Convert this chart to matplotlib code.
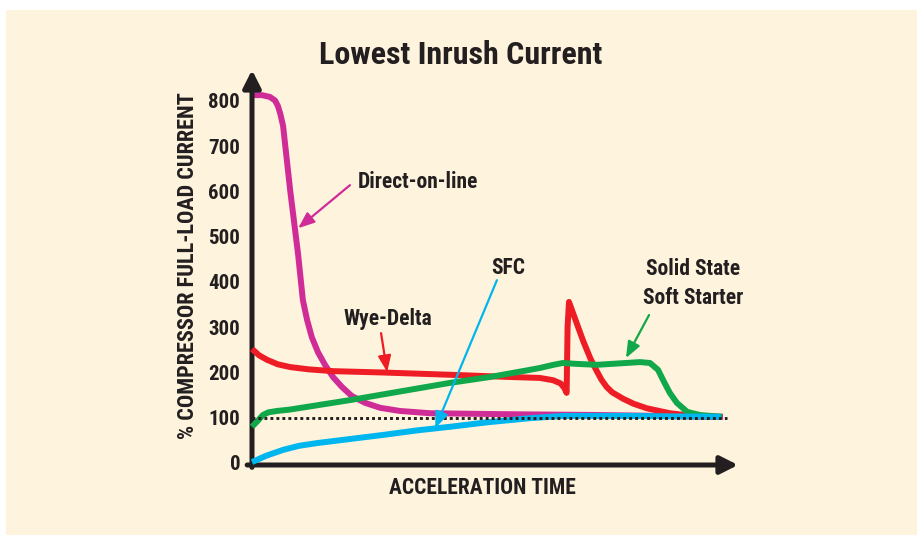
import os
import matplotlib
matplotlib.use("Agg")
import matplotlib.pyplot as plt
import matplotlib.font_manager as fm
from matplotlib.patches import Rectangle

# ---------------- data (x: % of acceleration time, y: % full-load current) ----
dol_x = [0.0, 2.1, 3.8, 4.9, 5.5, 6.0, 6.6, 8.1, 9.8, 10.8, 11.7, 12.7, 14.0,
         15.5, 17.2, 19.1, 21.2, 24.0, 27.2, 31.4, 37.8, 52.7, 73.9, 100.0]
dol_y = [813, 813, 809, 801, 789, 772, 745, 603, 460, 360, 316, 278, 245,
         217, 190, 168, 148, 133, 122, 115, 110, 108, 106, 102]

wye_x = [0.0, 1.5, 3.2, 5.5, 8.1, 12.0, 17.2, 27.8, 42.0, 55.0, 61.1, 63.9,
         65.5, 66.3, 66.8, 67.0, 67.3, 68.2, 70.3, 71.8, 73.2, 74.2, 75.3,
         76.5, 78.8, 81.0, 83.8, 88.7, 94.4, 99.8]
wye_y = [252, 238, 228, 218, 212, 207, 203, 200, 195, 190, 188, 183,
         176, 166, 155, 300, 356, 330, 270, 232, 203, 184, 168,
         156, 142, 131, 121, 110, 103, 102]

sss_x = [0.0, 1.2, 2.3, 3.5, 5.3, 8.0, 20.8, 42.0, 50.5, 58.0, 61.1, 64.0,
         66.0, 69.0, 73.2, 82.4, 84.5, 86.2, 87.3, 88.7, 90.2, 92.4, 95.1,
         99.8]
sss_y = [80, 93, 106, 112, 115, 118, 139, 177, 190, 204, 210, 217,
         221, 219, 217, 223, 221, 206, 183, 155, 133, 113, 106, 102]

sfc_x = [0.0, 3.0, 6.6, 10.0, 13.8, 20.0, 27.8, 35.0, 42.0, 50.0, 59.0,
         66.0, 80.0, 99.5]
sfc_y = [2, 16, 29, 38, 44, 52, 62, 72, 80, 90, 99, 104, 104, 102]

ref_level = 100
y_ticks = [0, 100, 200, 300, 400, 500, 600, 700, 800]

title = "Lowest Inrush Current"
ylabel = "% COMPRESSOR FULL-LOAD CURRENT"
xlabel = "ACCELERATION TIME"

C_DOL = "#D02C98"
C_WYE = "#EE1C25"
C_SSS = "#10A84B"
C_SFC = "#00B6EF"
INK = "#231F20"
BG = "#FEF3DC"


# ---------------- font: prefer a condensed / narrow bold sans ----------------
def pick_font():
    best = None
    for f in fm.fontManager.ttflist:
        base = os.path.basename(f.fname).lower()
        nm = f.name.lower()
        txt = base + " " + nm
        if any(k in txt for k in ("italic", "oblique", "mono", "serif")):
            continue
        condensed = ("narrow" in txt or "cond" in txt
                     or str(f.stretch) in ("condensed", "semi-condensed",
                                           "extra-condensed"))
        if not condensed:
            continue
        w = f.weight if isinstance(f.weight, int) else (
            700 if "bold" in str(f.weight) else 400)
        if "bold" in base and not any(k in base for k in ("semi", "extra", "ultra")):
            w = 700
        if w < 600:
            continue
        rank = 5
        if "liberation" in txt:
            rank = 0
        elif "roboto" in txt:
            rank = 1
        elif "noto" in txt:
            rank = 2
        elif "open" in txt:
            rank = 3
        elif "dejavu" in txt:
            rank = 4
        score = (rank, abs(w - 700), len(base))
        if best is None or score < best[0]:
            best = (score, f.fname)
    return best[1] if best else None


_fpath = pick_font()
if _fpath:
    def FP(size):
        return fm.FontProperties(fname=_fpath, size=size)
    SCALE = 1.0
else:
    def FP(size):
        return fm.FontProperties(family=["Roboto", "DejaVu Sans"],
                                 weight="bold", size=size)
    SCALE = 0.85

W, H = 917, 535
fig = plt.figure(figsize=(W / 100, H / 100), dpi=100)
fig.patch.set_facecolor("white")
fig.patches.append(Rectangle((6 / W, 0), 1 - 6 / W, 1 - 10 / H,
                             transform=fig.transFigure, facecolor=BG,
                             edgecolor="none", zorder=-10))


def fx(px):
    return px / W


def fy(py):
    return 1 - py / H


# axes: left edge px 252 (x=0), right px 738 ; bottom px 465, top px 70
left, right, bottom, top = 252, 738, 465, 70
ax = fig.add_axes([fx(left), fy(bottom), (right - left) / W, (bottom - top) / H])
ax.set_facecolor("none")
px_per_x = 4.71
px_per_y = 0.4525
ax.set_xlim(0, (right - left) / px_per_x)
ax.set_ylim((463 - bottom) / px_per_y, (463 - top) / px_per_y)
for s in ax.spines.values():
    s.set_visible(False)
ax.set_xticks([])
ax.set_yticks(y_ticks)
ax.set_yticklabels([str(t) for t in y_ticks])
ax.tick_params(axis="y", length=0, pad=8.5, labelcolor=INK)
for lab in ax.get_yticklabels():
    lab.set_fontproperties(FP(15 * SCALE))

# axis arrows
for xy, xyt in (((0, 1), (0, -0.006)), ((1, 0), (-0.01, 0))):
    ax.annotate("", xy=xy, xycoords="axes fraction", xytext=xyt,
                arrowprops=dict(arrowstyle="-|>,head_length=0.75,head_width=0.38",
                                mutation_scale=14, lw=3.6, color=INK,
                                shrinkA=0, shrinkB=0), annotation_clip=False)

lw = 4.3
kw = dict(lw=lw, solid_joinstyle="round", solid_capstyle="butt", clip_on=False)
ax.plot(dol_x, dol_y, color=C_DOL, zorder=2, **kw)
ax.plot(wye_x, wye_y, color=C_WYE, zorder=3, **kw)
ax.plot(sss_x, sss_y, color=C_SSS, zorder=4, **kw)
ax.plot(sfc_x, sfc_y, color=C_SFC, zorder=5, **kw)
ax.plot([0, 100.8], [ref_level, ref_level], color=INK, lw=2.1,
        linestyle=(0, (1, 1.05)), zorder=6, clip_on=False)


def note(text, xy, xytext, tpos, color, ha="center"):
    ax.annotate("", xy=xy, xytext=xytext,
                arrowprops=dict(arrowstyle="-|>,head_length=0.7,head_width=0.28",
                                mutation_scale=14, lw=1.6, color=color,
                                shrinkA=0, shrinkB=0), zorder=7)
    ax.text(tpos[0], tpos[1], text, ha=ha, va="center",
            fontproperties=FP(15.5 * SCALE), color=INK, linespacing=1.4)


note("Direct-on-line", (9.8, 519), (20.8, 614), (22.5, 621), C_DOL, ha="left")
note("Wye-Delta", (28.7, 201), (27.4, 287), (28.9, 318), C_WYE)
note("SFC", (38.9, 77), (52.0, 404), (54.4, 431), C_SFC)
note("Solid State\nSoft Starter", (79.4, 232), (84.3, 327), (93.6, 396), C_SSS)

fig.text(fx(461), fy(55), title, ha="center", va="center",
         fontproperties=FP(23 * SCALE), color=INK)
fig.text(fx(188), fy(266), ylabel, ha="center", va="center", rotation=90,
         fontproperties=FP(16 * SCALE), color=INK)
fig.text(fx(482), fy(488), xlabel, ha="center", va="center",
         fontproperties=FP(15.5 * SCALE), color=INK)

fig.savefig("out.png", dpi=100, facecolor=fig.get_facecolor())
